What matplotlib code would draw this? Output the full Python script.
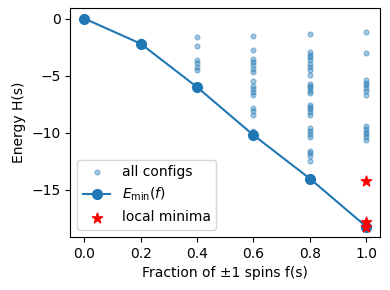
import numpy as np
import matplotlib.pyplot as plt

fractions = [0.0, 0.2, 0.4, 0.6, 0.8, 1.0]

# energies of all sampled configs, one list per fraction
energies_00 = [0.0]
energies_02 = [-2.0, -2.2]
energies_04 = [-1.6, -2.4, -3.6, -3.9, -4.2, -4.5, -6.0]
energies_06 = [-1.5, -2.75, -3.5, -3.8, -4.1, -4.4, -4.7, -5.5, -5.9, -6.2,
               -6.4, -6.7, -7.8, -8.1, -8.4, -9.8, -10.05, -10.2]
energies_08 = [-1.35, -2.9, -3.15, -3.4, -3.65, -3.95, -4.2, -4.5, -4.9,
               -5.7, -5.9, -6.05, -6.3, -6.5, -7.55, -7.7, -7.95, -8.2,
               -8.4, -9.6, -9.8, -10.1, -10.4, -11.6, -11.8, -12.0, -12.45,
               -14.0]
energies_10 = [-1.15, -3.05, -5.4, -5.6, -5.85, -6.1, -6.35, -6.65, -9.4,
               -9.65, -9.9, -10.1, -10.35, -10.6, -14.2, -17.8, -18.2]
all_energies = [energies_00, energies_02, energies_04, energies_06,
                energies_08, energies_10]

e_min = [0.0, -2.2, -6.0, -10.2, -14.0, -18.2]

minima_f = [1.0, 1.0, 1.0]
minima_e = [-14.2, -17.8, -18.2]

xs = np.concatenate([[f] * len(e) for f, e in zip(fractions, all_energies)])
ys = np.concatenate(all_energies)

fig, ax = plt.subplots(figsize=(3.9, 2.9), dpi=100)
ax.scatter(xs, ys, s=12, alpha=0.4, color="C0", label="all configs")
ax.plot(fractions, e_min, "o-", color="C0", markersize=7,
        label=r"$E_{\min}(f)$")
ax.scatter(minima_f, minima_e, marker="*", s=60, color="red",
           label="local minima", zorder=3)

ax.set_xlabel("Fraction of ±1 spins f(s)")
ax.set_ylabel("Energy H(s)")
ax.legend(loc="lower left")
fig.subplots_adjust(left=0.18, right=0.975, top=0.972, bottom=0.183)
fig.savefig("out.png")
